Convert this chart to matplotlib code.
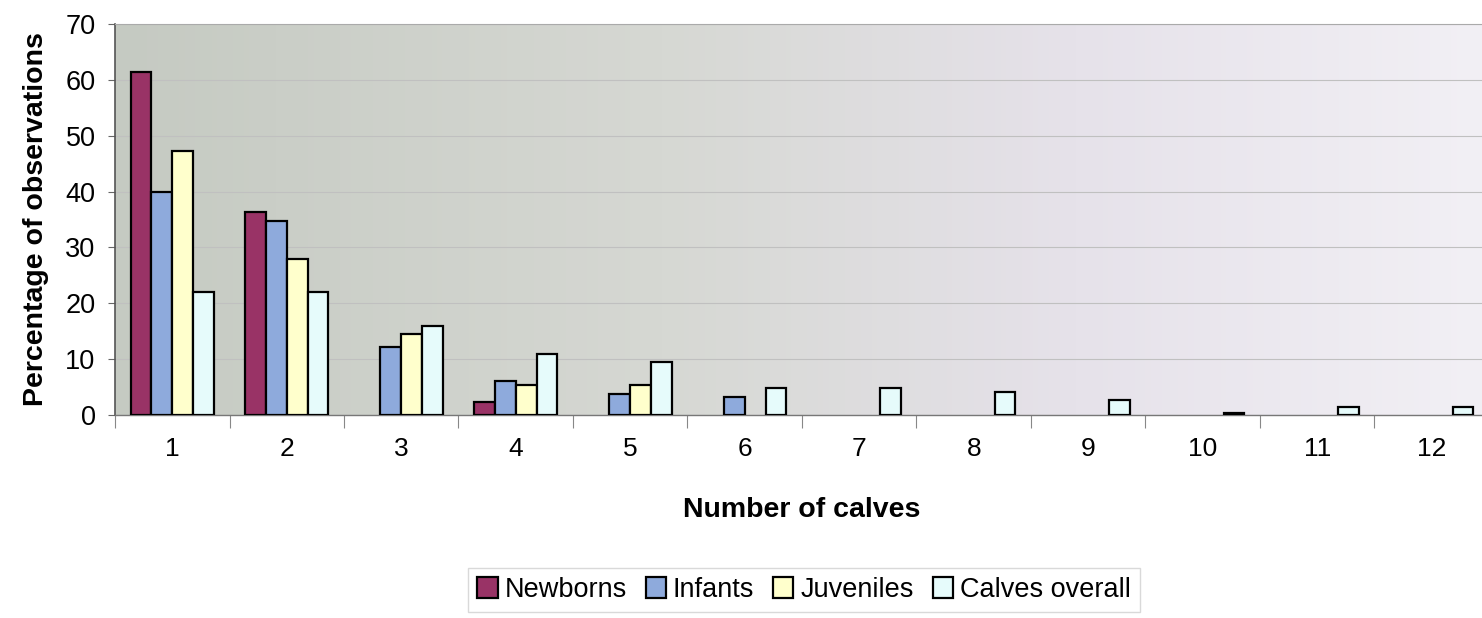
import numpy as np
import matplotlib
matplotlib.use("Agg")
import matplotlib.pyplot as plt
from matplotlib.colors import LinearSegmentedColormap

# data
calves = ["1", "2", "3", "4", "5", "6", "7", "8", "9", "10", "11", "12"]
newborns = [61.4, 36.4, 0, 2.4, 0, 0, 0, 0, 0, 0, 0, 0]
infants = [40.0, 34.7, 12.1, 6.0, 3.7, 3.3, 0, 0, 0, 0, 0, 0]
juveniles = [47.2, 27.9, 14.5, 5.3, 5.3, 0, 0, 0, 0, 0, 0, 0]
overall = [22.0, 22.0, 15.9, 10.9, 9.4, 4.9, 4.9, 4.1, 2.7, 0.4, 1.5, 1.5]

series = ["Newborns", "Infants", "Juveniles", "Calves overall"]
colors = ["#993366", "#8eaadc", "#ffffcc", "#e6fbfb"]

plt.rcParams["font.family"] = ["Liberation Sans", "DejaVu Sans"]

fig = plt.figure(figsize=(14.82, 6.18), dpi=100)
ax = fig.add_axes([115 / 1482, 203 / 618, 1374 / 1482, 391 / 618])

# gradient plot area background
bg = LinearSegmentedColormap.from_list(
    "bg", [(0, "#c5cac2"), (0.4, "#d6d8d3"), (0.7, "#e6e2ea"), (1, "#f2f0f5")])
ax.imshow(np.linspace(0, 1, 256).reshape(1, -1), cmap=bg, aspect="auto",
          extent=[0, 1, 0, 1], transform=ax.transAxes, zorder=0)

n = len(calves)
x = np.arange(n)
width = 1 / 5.5
for i, (vals, c, lab) in enumerate(zip([newborns, infants, juveniles, overall], colors, series)):
    vals = np.array(vals, dtype=float)
    keep = vals > 0
    offset = (i - 1.5) * width
    ax.bar(x[keep] + offset, vals[keep], width=width, color=c, edgecolor="black",
           linewidth=1.6, label=lab, zorder=3)

ax.set_xlim(-0.5, n - 0.5)
ax.set_ylim(0, 70)
ax.set_yticks(np.arange(0, 71, 10))
ax.yaxis.grid(True, color="#c0c0c0", linewidth=0.8, zorder=1)
ax.set_axisbelow(True)

ax.set_xticks(x)
ax.set_xticklabels(calves)
ax.set_xticks(np.arange(-0.5, n, 1), minor=True)
ax.tick_params(axis="x", which="major", length=0, pad=16, labelsize=19)
ax.tick_params(axis="x", which="minor", length=9, color="#888888", width=0.8)
ax.tick_params(axis="y", length=5, color="#666666", labelsize=19.5, pad=9)

ax.spines["right"].set_visible(False)
ax.spines["top"].set_color("#aaaaaa")
ax.spines["left"].set_color("#555555")
ax.spines["left"].set_linewidth(1.2)
ax.spines["bottom"].set_color("#777777")
ax.spines["bottom"].set_linewidth(1.0)

ax.set_xlabel("Number of calves", fontsize=20.5, fontweight="bold", labelpad=26)
ax.set_ylabel("Percentage of observations", fontsize=20.5, fontweight="bold", labelpad=12)

leg = fig.legend(loc="center", bbox_to_anchor=(804 / 1482, 1 - 590 / 618), ncol=4,
                 fontsize=19.5, frameon=True, fancybox=False, handlelength=0.75,
                 handleheight=0.8, handletextpad=0.25, columnspacing=0.7,
                 borderpad=0.35)
leg.get_frame().set_edgecolor("#d0d0d0")
leg.get_frame().set_linewidth(1.0)

fig.savefig("out.png", dpi=100)
